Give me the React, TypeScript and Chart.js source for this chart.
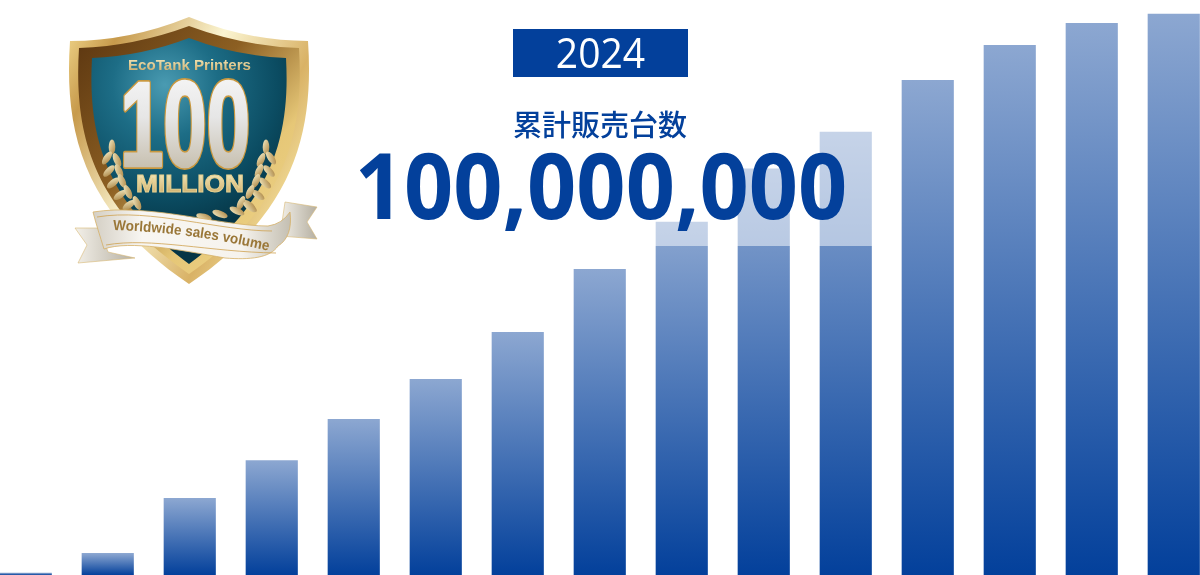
import React, { useEffect, useRef } from "react";
import { Chart, registerables } from "chart.js";

Chart.register(...registerables);

const years = ["2010","2011","2012","2013","2014","2015","2016","2017","2018","2019","2020","2021","2022","2023","2024"];
const unitsSold = [0.35, 3.85, 13.65, 20.4, 27.75, 34.9, 43.25, 54.5, 62.9, 72.4, 78.95, 88.2, 94.4, 98.35, 100.0];
const yearLabel = "2024";
const headline = "累計販売台数";
const totalLabel = "100,000,000";

const BLUE = "#03409b";
const BAR_TOP = "#8ca7d1";

const leaves: [number, number, number][] = [
  [112, 147, 0], [107, 158, 35], [117, 160, -25], [109, 171, 45], [119, 171, -25],
  [113, 183, 50], [122, 181, -25], [120, 195, 55], [128, 192, -25], [129, 205, 55], [137, 203, -25],
];
const lowerLeaves: [number, number, number][] = [
  [250, 207, -55], [237, 211, -65], [220, 214, -70], [204, 217, -75],
];

function Badge() {
  const mirror = 378;
  return (
    <svg width={1200} height={575} style={{ position: "absolute", left: 0, top: 0 }}>
      <defs>
        <linearGradient id="rim" x1="0" x2="1" y1="0" y2="0.6">
          <stop offset="0" stopColor="#f3d98e" />
          <stop offset="0.18" stopColor="#c79a4c" />
          <stop offset="0.5" stopColor="#fbf5d2" />
          <stop offset="0.8" stopColor="#d9b266" />
          <stop offset="1" stopColor="#f5e29f" />
        </linearGradient>
        <linearGradient id="rimDark" x1="0" x2="1" y1="0" y2="1">
          <stop offset="0" stopColor="#5a3510" />
          <stop offset="0.4" stopColor="#8c5f22" />
          <stop offset="0.68" stopColor="#e6c777" />
          <stop offset="1" stopColor="#f0d88f" />
        </linearGradient>
        <radialGradient id="teal" gradientUnits="userSpaceOnUse" cx="165" cy="85" r="150">
          <stop offset="0" stopColor="#4a9bb2" />
          <stop offset="0.35" stopColor="#1d6d86" />
          <stop offset="0.75" stopColor="#0b4c62" />
          <stop offset="1" stopColor="#063646" />
        </radialGradient>
        <linearGradient id="num" x1="0" x2="0" y1="0" y2="1">
          <stop offset="0" stopColor="#fbfbfb" />
          <stop offset="0.45" stopColor="#e6e6e6" />
          <stop offset="1" stopColor="#b9ae96" />
        </linearGradient>
        <linearGradient id="goldText" x1="0" x2="0" y1="0" y2="1">
          <stop offset="0" stopColor="#f8efc4" />
          <stop offset="1" stopColor="#c9a763" />
        </linearGradient>
        <linearGradient id="leaf" x1="0" x2="1" y1="0" y2="1">
          <stop offset="0" stopColor="#f5ecc4" />
          <stop offset="1" stopColor="#a98240" />
        </linearGradient>
        <linearGradient id="ribbon" x1="0" x2="1" y1="0" y2="0">
          <stop offset="0" stopColor="#d4cfc4" />
          <stop offset="0.25" stopColor="#f8f6f2" />
          <stop offset="0.75" stopColor="#f6f3ed" />
          <stop offset="1" stopColor="#c4bfb2" />
        </linearGradient>
        <linearGradient id="tail" x1="0" x2="1" y1="0" y2="0">
          <stop offset="0" stopColor="#f3f0e9" />
          <stop offset="1" stopColor="#b5afa1" />
        </linearGradient>
        <path id="ribbonText" d="M 113 230 Q 190 232 269 251" />
      </defs>

      <path d="M 70 41 Q 130 41 189 17 Q 248 41 308 41 C 314 130 296 212 189 284 C 82 212 64 130 70 41 Z" fill="url(#rim)" />
      <path d="M 79 48 Q 135 46 189 26 Q 243 46 299 48 C 304 130 288 206 189 274 C 90 206 74 130 79 48 Z" fill="url(#rimDark)" />
      <path d="M 92 58 Q 142 56 189 38 Q 236 56 286 58 C 290 130 276 200 189 264 C 102 200 88 130 92 58 Z" fill="url(#teal)" />

      <text x="189.5" y="70" textAnchor="middle" textLength="123" lengthAdjust="spacingAndGlyphs"
        fontFamily="'Liberation Sans'" fontWeight="700" fontSize="15" fill="url(#goldText)">EcoTank Printers</text>

      {leaves.map(([x, y, r], i) => (
        <g key={i}>
          <ellipse cx={x} cy={y} rx={3.3} ry={7.5} fill="url(#leaf)" transform={`rotate(${r} ${x} ${y})`} />
          <ellipse cx={mirror - x} cy={y} rx={3.3} ry={7.5} fill="url(#leaf)" transform={`rotate(${-r} ${mirror - x} ${y})`} />
        </g>
      ))}
      {lowerLeaves.map(([x, y, r], i) => (
        <ellipse key={i} cx={x} cy={y} rx={3.3} ry={8} fill="url(#leaf)" transform={`rotate(${r} ${x} ${y})`} />
      ))}

      <text x="185" y="166" textAnchor="middle" textLength="130" lengthAdjust="spacingAndGlyphs"
        fontFamily="'Liberation Sans'" fontWeight="700" fontSize="120" fill="#c9983f" stroke="#c9983f" strokeWidth="6" strokeLinejoin="round">100</text>
      <text x="185" y="166" textAnchor="middle" textLength="130" lengthAdjust="spacingAndGlyphs"
        fontFamily="'Liberation Sans'" fontWeight="700" fontSize="120" fill="url(#num)" stroke="url(#num)" strokeWidth="2.5" strokeLinejoin="round">100</text>
      <text x="190" y="192" textAnchor="middle" textLength="108" lengthAdjust="spacingAndGlyphs"
        fontFamily="'Liberation Sans'" fontWeight="700" fontSize="24" fill="url(#goldText)" stroke="#e6d08f" strokeWidth="1">MILLION</text>

      <path d="M 75 228 L 100 228 L 108 252 L 135 258 L 78 263 L 87 245 Z" fill="url(#tail)" stroke="#d9b873" strokeWidth="0.6" />
      <path d="M 285 202 L 317 207 L 307 222 L 317 239 L 280 236 Z" fill="url(#tail)" stroke="#d9b873" strokeWidth="0.6" />
      <path d="M 93 212 C 150 203 220 226 268 226 Q 282 224 290 212 C 292 228 288 240 278 246 C 270 258 250 260 225 258 C 180 250 130 240 104 249 C 100 236 96 224 93 212 Z"
        fill="url(#ribbon)" stroke="#d6b066" strokeWidth="0.8" />
      <path d="M 97 217 C 150 208 220 231 272 231" fill="none" stroke="#cfa250" strokeWidth="0.8" />
      <path d="M 106 245 C 150 237 210 252 276 253" fill="none" stroke="#cfa250" strokeWidth="0.8" />
      <text fontFamily="'Liberation Sans'" fontWeight="700" fontSize="14.5" fill="#9a7738">
        <textPath href="#ribbonText" textLength="157" lengthAdjust="spacingAndGlyphs">Worldwide sales volume</textPath>
      </text>
    </svg>
  );
}

export default function App() {
  const ref = useRef<HTMLCanvasElement>(null);
  useEffect(() => {
    document.body.style.margin = "0";
    const chart = new Chart(ref.current!, {
      type: "bar",
      data: {
        labels: years,
        datasets: [
          {
            data: unitsSold,
            barThickness: 51.5,
            clip: false,
            backgroundColor: (c: any) => {
              const scale = c.chart.scales.y;
              if (!scale || typeof c.raw !== "number") return BLUE;
              const top = scale.getPixelForValue(c.raw);
              const bottom = scale.bottom;
              if (!Number.isFinite(top) || !Number.isFinite(bottom)) return BLUE;
              const g = c.chart.ctx.createLinearGradient(0, top, 0, bottom);
              g.addColorStop(0, BAR_TOP);
              g.addColorStop(1, BLUE);
              return g;
            },
          },
        ],
      },
      options: {
        responsive: false,
        animation: false,
        layout: { padding: { left: 25.75, right: 26.25, top: 0, bottom: 0 } },
        plugins: { legend: { display: false }, tooltip: { enabled: false } },
        scales: {
          x: { display: false, offset: false },
          y: { display: false, min: 0, max: 102.5 },
        },
      },
    } as any);
    return () => chart.destroy();
  }, []);

  return (
    <div style={{ position: "absolute", left: 0, top: 0, width: 1200, height: 575, overflow: "hidden", background: "#fff" }}>
      <canvas ref={ref} width={1200} height={575} style={{ display: "block" }} />
      <div style={{ position: "absolute", left: 350, top: 0, width: 530, height: 246, background: "rgba(255,255,255,0.5)" }} />
      <Badge />
      <div style={{ position: "absolute", left: 512.5, top: 29, width: 175, height: 48, background: BLUE }} />
      <div style={{ position: "absolute", left: 512.5, top: 28, width: 175, height: 48, color: "#fff", textAlign: "center",
        font: "400 42px/48px 'Open Sans'", transform: "scaleX(0.93)", transformOrigin: "50% 0" }}>{yearLabel}</div>
      <div style={{ position: "absolute", left: 400, top: 103, width: 400, textAlign: "center", color: BLUE,
        font: "500 29px/40px 'Noto Sans CJK JP'" }}>{headline}</div>
      <div style={{ position: "absolute", left: 301, top: 119, width: 600, textAlign: "center", color: BLUE,
        font: "700 92px/130px 'Open Sans'", transform: "scaleX(0.9365)", transformOrigin: "50% 0" }}>{totalLabel}</div>
    </div>
  );
}
